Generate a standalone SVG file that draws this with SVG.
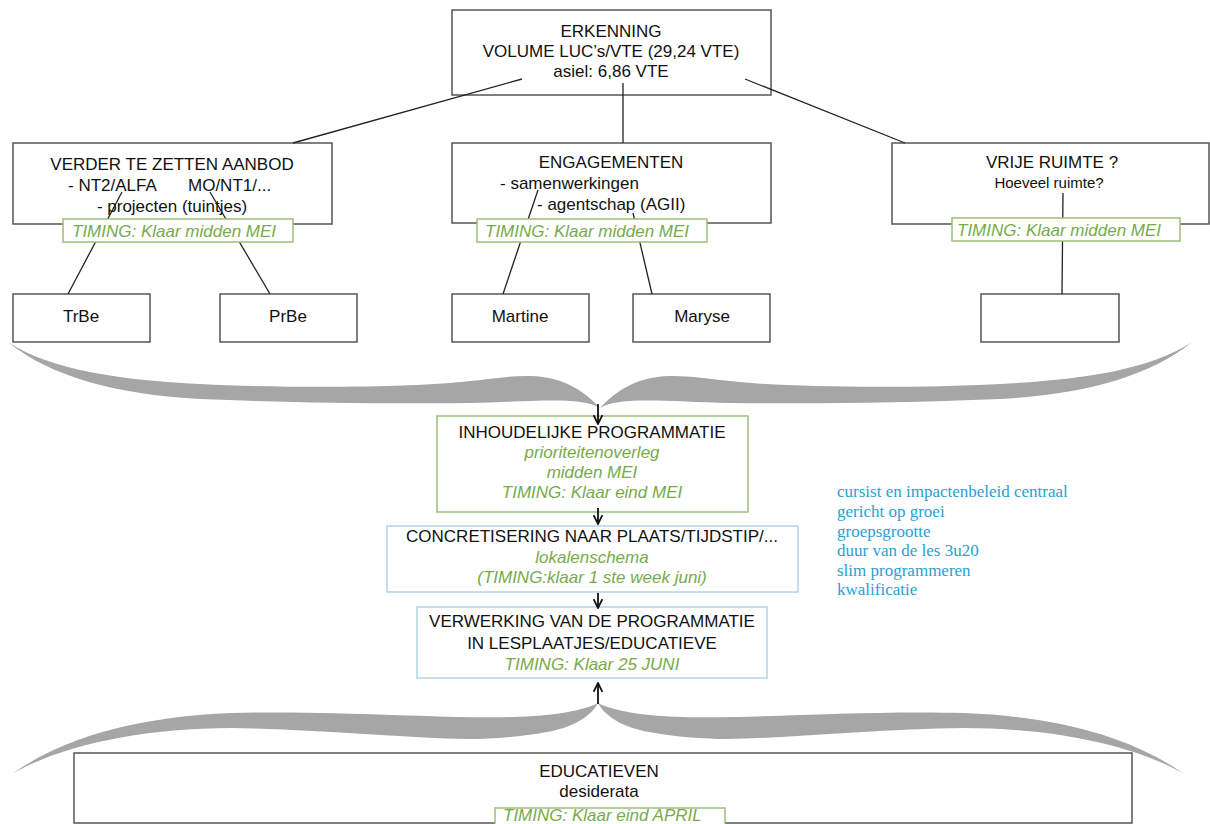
<svg xmlns="http://www.w3.org/2000/svg" width="1210" height="824" viewBox="0 0 1210 824">
<style>
.box{fill:#fff;stroke:#555;stroke-width:1.5}
.gbox{fill:#fff;stroke:#9dbe78;stroke-width:1.5}
.bbox{fill:#fff;stroke:#b3d3e6;stroke-width:1.5}
.t{font-family:"Liberation Sans",Arial,sans-serif;font-size:17px;fill:#111}
.c{text-anchor:middle}
.g{font-family:"Liberation Sans",Arial,sans-serif;font-size:17px;font-style:italic;fill:#78aa4c}
.ln{stroke:#222;stroke-width:1.3;fill:none}
.ar{stroke:#111;stroke-width:1.8;fill:none}
.brace{fill:#a6a6a6}
.blue{font-family:"Liberation Serif","Times New Roman",serif;font-size:17px;fill:#2a9fd3}
</style>
<defs>
<marker id="ah" viewBox="0 0 10 10" refX="9" refY="5" markerWidth="11" markerHeight="11" orient="auto" markerUnits="userSpaceOnUse">
<path d="M1,1 L9,5 L1,9" fill="none" stroke="#111" stroke-width="1.6"/>
</marker>
</defs>

<g id="braces">
<path class="brace" d="M8,342 C50,370 120,380 200,384 C300,389 420,387 470,381 C520,376 560,365 600,408 C580,396 530,402 470,403 C380,404 300,403 200,399 C120,395 50,377 8,342 Z"/>
<path class="brace" d="M1192,342 C1150,370 1080,380 1000,384 C900,389 780,387 730,381 C680,376 640,365 600,408 C620,396 670,402 730,403 C820,404 900,403 1000,399 C1080,395 1150,377 1192,342 Z"/>
<path class="brace" d="M12,774 C60,740 130,717 232,713 C330,710 450,719 513,717 C550,716 580,712 598,703 C590,718 570,728 547,732 C520,737 490,739 470,739 C400,738 320,729 232,728 C140,728 60,746 12,774 Z"/>
<path class="brace" d="M1184,774 C1136,740 1066,717 964,713 C866,710 746,719 683,717 C646,716 616,712 598,703 C606,718 626,728 649,732 C676,737 706,739 726,739 C796,738 876,729 964,728 C1056,728 1136,746 1184,774 Z"/>
</g>

<g id="erkenning">
<rect class="box" x="452" y="10" width="319" height="85"/>
<text class="t c" x="611" y="37">ERKENNING</text>
<text class="t c" x="611" y="57">VOLUME LUC’s/VTE (29,24 VTE)</text>
<text class="t c" x="611" y="77">asiel: 6,86 VTE</text>
</g>

<g id="verder">
<rect class="box" x="13" y="143" width="319" height="81"/>
<text class="t c" x="172" y="170">VERDER TE ZETTEN AANBOD</text>
<text class="t" y="191"><tspan x="68">- NT2/ALFA</tspan><tspan x="188">MO/NT1/...</tspan></text>
<text class="t c" x="172" y="212">- projecten (tuintjes)</text>
</g>

<g id="engagementen">
<rect class="box" x="452" y="143" width="319" height="80"/>
<text class="t c" x="611" y="168">ENGAGEMENTEN</text>
<text class="t" x="500" y="189">- samenwerkingen</text>
<text class="t" x="537" y="210">- agentschap (AGII)</text>
</g>

<g id="vrije">
<rect class="box" x="892" y="143" width="317" height="81"/>
<text class="t c" x="1052" y="168">VRIJE RUIMTE ?</text>
<text class="t c" x="1049" y="188" style="font-size:15px">Hoeveel ruimte?</text>
</g>

<g id="trbe"><rect class="box" x="13" y="294" width="137" height="48"/><text class="t c" x="81" y="322">TrBe</text></g>
<g id="prbe"><rect class="box" x="220" y="294" width="137" height="48"/><text class="t c" x="288" y="322">PrBe</text></g>
<g id="martine"><rect class="box" x="452" y="294" width="137" height="48"/><text class="t c" x="520" y="322">Martine</text></g>
<g id="maryse"><rect class="box" x="633" y="294" width="137" height="48"/><text class="t c" x="702" y="322">Maryse</text></g>
<g id="leeg"><rect class="box" x="981" y="294" width="138" height="48"/></g>

<g id="inhoudelijke">
<rect class="gbox" x="437" y="416" width="311" height="96"/>
<text class="t c" x="592" y="438">INHOUDELIJKE PROGRAMMATIE</text>
<text class="g c" x="592" y="458">prioriteitenoverleg</text>
<text class="g c" x="592" y="478">midden MEI</text>
<text class="g c" x="592" y="498">TIMING: Klaar eind MEI</text>
</g>

<g id="concretisering">
<rect class="bbox" x="387" y="526" width="411" height="66"/>
<text class="t c" x="592" y="542">CONCRETISERING NAAR PLAATS/TIJDSTIP/...</text>
<text class="g c" x="592" y="563">lokalenschema</text>
<text class="g c" x="592" y="583">(TIMING:klaar 1 ste week juni)</text>
</g>

<g id="verwerking">
<rect class="bbox" x="417" y="607" width="350" height="71"/>
<text class="t c" x="592" y="627">VERWERKING VAN DE PROGRAMMATIE</text>
<text class="t c" x="592" y="649">IN LESPLAATJES/EDUCATIEVE</text>
<text class="g c" x="592" y="670">TIMING: Klaar 25 JUNI</text>
</g>

<g id="criteria">
<text class="blue" x="837" y="497">cursist en impactenbeleid centraal</text>
<text class="blue" x="837" y="517">gericht op groei</text>
<text class="blue" x="837" y="537">groepsgrootte</text>
<text class="blue" x="837" y="556">duur van de les 3u20</text>
<text class="blue" x="837" y="576">slim programmeren</text>
<text class="blue" x="837" y="595">kwalificatie</text>
</g>

<g id="educatieven">
<rect class="box" x="74" y="753" width="1058" height="70"/>
<text class="t c" x="599" y="777">EDUCATIEVEN</text>
<text class="t c" x="599" y="797">desiderata</text>
<rect class="gbox" x="495" y="808" width="230" height="25"/>
<text class="g" x="503" y="821">TIMING: Klaar eind APRIL</text>
</g>

<g id="connectors">
<line class="ln" x1="522" y1="79" x2="293" y2="143"/>
<line class="ln" x1="623" y1="83" x2="623" y2="143"/>
<line class="ln" x1="745" y1="79" x2="905" y2="143"/>
<line class="ln" x1="122" y1="192" x2="68" y2="294"/>
<line class="ln" x1="210" y1="192" x2="270" y2="294"/>
<line class="ln" x1="538" y1="190" x2="503" y2="294"/>
<line class="ln" x1="633" y1="213" x2="652" y2="294"/>
<line class="ln" x1="1063" y1="193" x2="1062" y2="294"/>
<line class="ar" x1="598" y1="404" x2="598" y2="424" marker-end="url(#ah)"/>
<line class="ar" x1="598" y1="508" x2="598" y2="524" marker-end="url(#ah)"/>
<line class="ar" x1="598" y1="593" x2="598" y2="608" marker-end="url(#ah)"/>
<line class="ar" x1="598" y1="704" x2="598" y2="683" marker-end="url(#ah)"/>
</g>

<g id="verder-timing">
<rect class="gbox" x="63" y="219" width="230" height="23"/>
<text class="g" x="72" y="237">TIMING: Klaar midden MEI</text>
</g>
<g id="engagementen-timing">
<rect class="gbox" x="477" y="219" width="230" height="23"/>
<text class="g" x="485" y="237">TIMING: Klaar midden MEI</text>
</g>
<g id="vrije-timing">
<rect class="gbox" x="952" y="218" width="228" height="23"/>
<text class="g" x="957" y="236">TIMING: Klaar midden MEI</text>
</g>
</svg>
